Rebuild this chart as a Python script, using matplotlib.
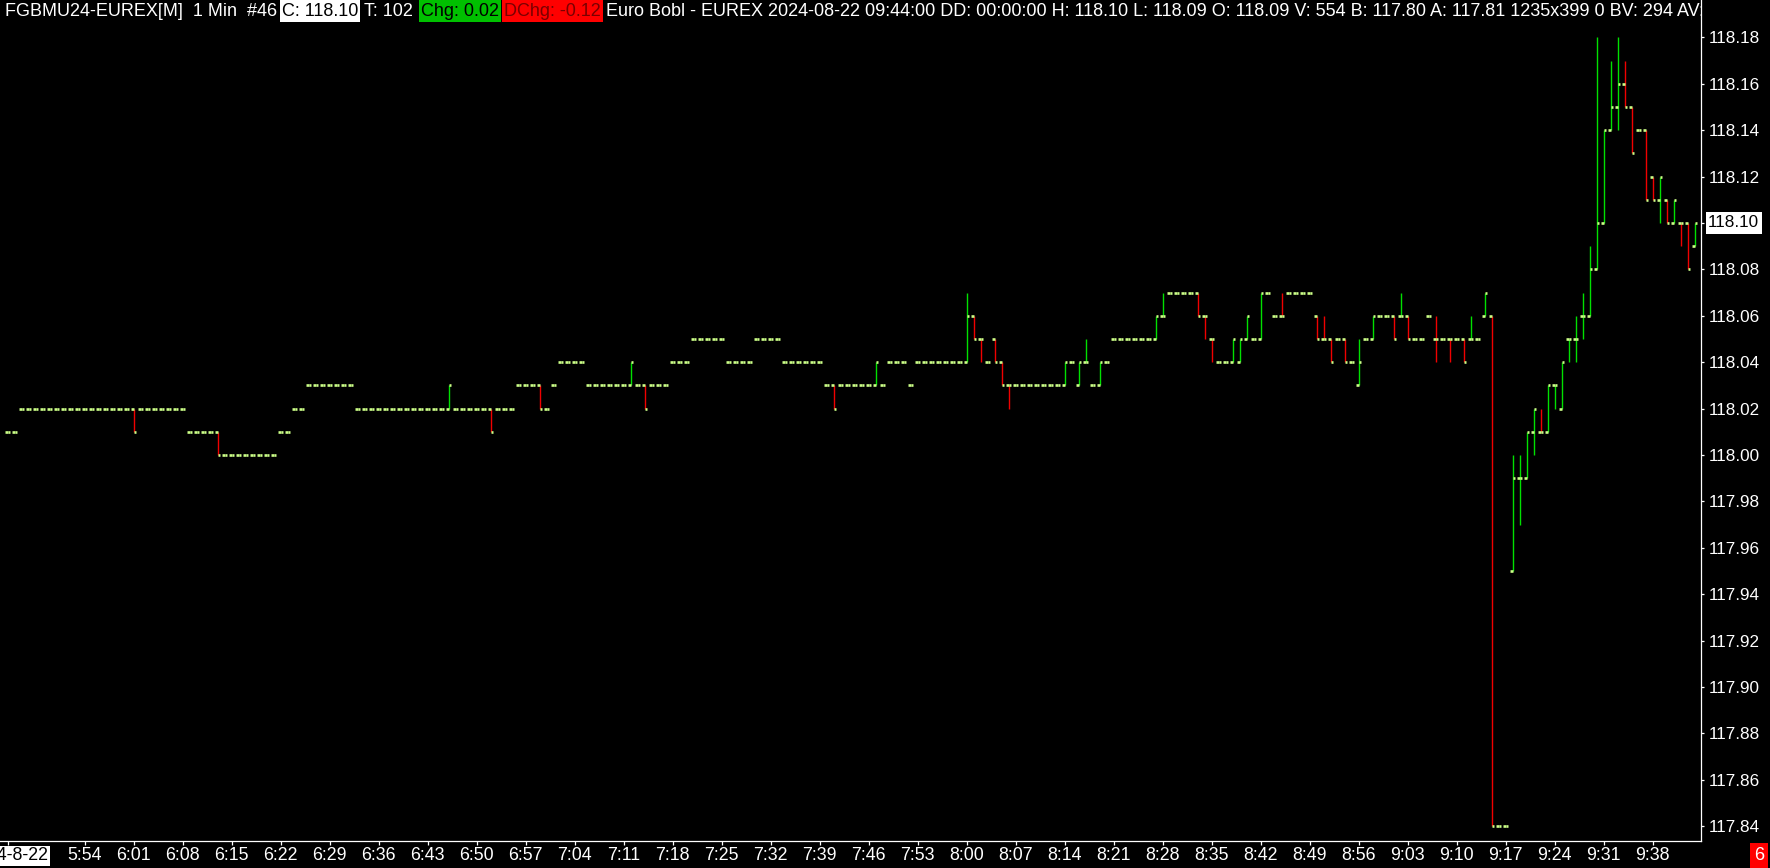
import numpy as np
import matplotlib
matplotlib.use('Agg')
import matplotlib.pyplot as plt
from matplotlib.patches import Rectangle
from matplotlib.ticker import MultipleLocator, FormatStrFormatter
from matplotlib.transforms import blended_transform_factory

plt.rcParams['font.family'] = ['Liberation Sans', 'DejaVu Sans']

W, H, DPI = 1770, 868, 100

# 1 minute bars, FGBMU24, starting 05:43
start_time = '5:43'

opens = [
    118.01, 118.01, 118.02, 118.02, 118.02, 118.02, 118.02, 118.02, 118.02, 118.02,
    118.02, 118.02, 118.02, 118.02, 118.02, 118.02, 118.02, 118.02, 118.02, 118.02,
    118.02, 118.02, 118.02, 118.02, 118.02, 118.02, 118.01, 118.01, 118.01, 118.01,
    118.01, 118.00, 118.00, 118.00, 118.00, 118.00, 118.00, 118.00, 118.00, 118.01,
    118.01, 118.02, 118.02, 118.03, 118.03, 118.03, 118.03, 118.03, 118.03, 118.03,
    118.02, 118.02, 118.02, 118.02, 118.02, 118.02, 118.02, 118.02, 118.02, 118.02,
    118.02, 118.02, 118.02, 118.02, 118.02, 118.02, 118.02, 118.02, 118.02, 118.02,
    118.02, 118.02, 118.02, 118.03, 118.03, 118.03, 118.03, 118.02, 118.03, 118.04,
    118.04, 118.04, 118.04, 118.03, 118.03, 118.03, 118.03, 118.03, 118.03, 118.03,
    118.03, 118.03, 118.03, 118.03, 118.03, 118.04, 118.04, 118.04, 118.05, 118.05,
    118.05, 118.05, 118.05, 118.04, 118.04, 118.04, 118.04, 118.05, 118.05, 118.05,
    118.05, 118.04, 118.04, 118.04, 118.04, 118.04, 118.04, 118.03, 118.03, 118.03,
    118.03, 118.03, 118.03, 118.03, 118.03, 118.03, 118.04, 118.04, 118.04, 118.03,
    118.04, 118.04, 118.04, 118.04, 118.04, 118.04, 118.04, 118.04, 118.06, 118.05,
    118.04, 118.05, 118.04, 118.03, 118.03, 118.03, 118.03, 118.03, 118.03, 118.03,
    118.03, 118.03, 118.04, 118.03, 118.04, 118.03, 118.03, 118.04, 118.05, 118.05,
    118.05, 118.05, 118.05, 118.05, 118.05, 118.06, 118.07, 118.07, 118.07, 118.07,
    118.07, 118.06, 118.05, 118.04, 118.04, 118.04, 118.04, 118.05, 118.05, 118.05,
    118.07, 118.06, 118.06, 118.07, 118.07, 118.07, 118.07, 118.06, 118.05, 118.05,
    118.05, 118.05, 118.04, 118.03, 118.05, 118.05, 118.06, 118.06, 118.06, 118.06,
    118.06, 118.05, 118.05, 118.06, 118.05, 118.05, 118.05, 118.05, 118.05, 118.05,
    118.05, 118.06, 118.06, 117.84, 117.84, 117.95, 117.99, 117.99, 118.01, 118.01,
    118.01, 118.03, 118.02, 118.05, 118.05, 118.06, 118.06, 118.08, 118.10, 118.14,
    118.15, 118.16, 118.15, 118.14, 118.14, 118.12, 118.11, 118.11, 118.10, 118.10,
    118.10, 118.09,
]
highs = [
    118.01, 118.01, 118.02, 118.02, 118.02, 118.02, 118.02, 118.02, 118.02, 118.02,
    118.02, 118.02, 118.02, 118.02, 118.02, 118.02, 118.02, 118.02, 118.02, 118.02,
    118.02, 118.02, 118.02, 118.02, 118.02, 118.02, 118.01, 118.01, 118.01, 118.01,
    118.01, 118.00, 118.00, 118.00, 118.00, 118.00, 118.00, 118.00, 118.00, 118.01,
    118.01, 118.02, 118.02, 118.03, 118.03, 118.03, 118.03, 118.03, 118.03, 118.03,
    118.02, 118.02, 118.02, 118.02, 118.02, 118.02, 118.02, 118.02, 118.02, 118.02,
    118.02, 118.02, 118.02, 118.03, 118.02, 118.02, 118.02, 118.02, 118.02, 118.02,
    118.02, 118.02, 118.02, 118.03, 118.03, 118.03, 118.03, 118.02, 118.03, 118.04,
    118.04, 118.04, 118.04, 118.03, 118.03, 118.03, 118.03, 118.03, 118.03, 118.04,
    118.03, 118.03, 118.03, 118.03, 118.03, 118.04, 118.04, 118.04, 118.05, 118.05,
    118.05, 118.05, 118.05, 118.04, 118.04, 118.04, 118.04, 118.05, 118.05, 118.05,
    118.05, 118.04, 118.04, 118.04, 118.04, 118.04, 118.04, 118.03, 118.03, 118.03,
    118.03, 118.03, 118.03, 118.03, 118.04, 118.03, 118.04, 118.04, 118.04, 118.03,
    118.04, 118.04, 118.04, 118.04, 118.04, 118.04, 118.04, 118.07, 118.06, 118.05,
    118.04, 118.05, 118.04, 118.03, 118.03, 118.03, 118.03, 118.03, 118.03, 118.03,
    118.03, 118.04, 118.04, 118.04, 118.05, 118.03, 118.04, 118.04, 118.05, 118.05,
    118.05, 118.05, 118.05, 118.05, 118.06, 118.07, 118.07, 118.07, 118.07, 118.07,
    118.07, 118.06, 118.05, 118.04, 118.04, 118.05, 118.05, 118.06, 118.05, 118.07,
    118.07, 118.06, 118.07, 118.07, 118.07, 118.07, 118.07, 118.06, 118.06, 118.05,
    118.05, 118.05, 118.04, 118.05, 118.05, 118.06, 118.06, 118.06, 118.06, 118.07,
    118.06, 118.05, 118.05, 118.06, 118.06, 118.05, 118.05, 118.05, 118.05, 118.06,
    118.05, 118.07, 118.06, 117.84, 117.84, 118.00, 118.00, 118.01, 118.02, 118.02,
    118.03, 118.03, 118.04, 118.05, 118.06, 118.07, 118.09, 118.18, 118.14, 118.17,
    118.18, 118.17, 118.15, 118.14, 118.14, 118.12, 118.12, 118.11, 118.11, 118.10,
    118.10, 118.10,
]
lows = [
    118.01, 118.01, 118.02, 118.02, 118.02, 118.02, 118.02, 118.02, 118.02, 118.02,
    118.02, 118.02, 118.02, 118.02, 118.02, 118.02, 118.02, 118.02, 118.01, 118.02,
    118.02, 118.02, 118.02, 118.02, 118.02, 118.02, 118.01, 118.01, 118.01, 118.01,
    118.00, 118.00, 118.00, 118.00, 118.00, 118.00, 118.00, 118.00, 118.00, 118.01,
    118.01, 118.02, 118.02, 118.03, 118.03, 118.03, 118.03, 118.03, 118.03, 118.03,
    118.02, 118.02, 118.02, 118.02, 118.02, 118.02, 118.02, 118.02, 118.02, 118.02,
    118.02, 118.02, 118.02, 118.02, 118.02, 118.02, 118.02, 118.02, 118.02, 118.01,
    118.02, 118.02, 118.02, 118.03, 118.03, 118.03, 118.02, 118.02, 118.03, 118.04,
    118.04, 118.04, 118.04, 118.03, 118.03, 118.03, 118.03, 118.03, 118.03, 118.03,
    118.03, 118.02, 118.03, 118.03, 118.03, 118.04, 118.04, 118.04, 118.05, 118.05,
    118.05, 118.05, 118.05, 118.04, 118.04, 118.04, 118.04, 118.05, 118.05, 118.05,
    118.05, 118.04, 118.04, 118.04, 118.04, 118.04, 118.04, 118.03, 118.02, 118.03,
    118.03, 118.03, 118.03, 118.03, 118.03, 118.03, 118.04, 118.04, 118.04, 118.03,
    118.04, 118.04, 118.04, 118.04, 118.04, 118.04, 118.04, 118.04, 118.05, 118.04,
    118.04, 118.04, 118.03, 118.02, 118.03, 118.03, 118.03, 118.03, 118.03, 118.03,
    118.03, 118.03, 118.04, 118.03, 118.04, 118.03, 118.03, 118.04, 118.05, 118.05,
    118.05, 118.05, 118.05, 118.05, 118.05, 118.06, 118.07, 118.07, 118.07, 118.07,
    118.06, 118.05, 118.04, 118.04, 118.04, 118.04, 118.04, 118.05, 118.05, 118.05,
    118.07, 118.06, 118.06, 118.07, 118.07, 118.07, 118.07, 118.05, 118.05, 118.04,
    118.05, 118.04, 118.04, 118.03, 118.05, 118.05, 118.06, 118.06, 118.05, 118.06,
    118.05, 118.05, 118.05, 118.06, 118.04, 118.05, 118.04, 118.05, 118.04, 118.05,
    118.05, 118.06, 117.84, 117.84, 117.84, 117.95, 117.97, 117.99, 118.00, 118.01,
    118.01, 118.02, 118.02, 118.04, 118.04, 118.05, 118.06, 118.08, 118.10, 118.14,
    118.14, 118.15, 118.13, 118.14, 118.11, 118.11, 118.10, 118.10, 118.10, 118.09,
    118.08, 118.09,
]
closes = [
    118.01, 118.01, 118.02, 118.02, 118.02, 118.02, 118.02, 118.02, 118.02, 118.02,
    118.02, 118.02, 118.02, 118.02, 118.02, 118.02, 118.02, 118.02, 118.01, 118.02,
    118.02, 118.02, 118.02, 118.02, 118.02, 118.02, 118.01, 118.01, 118.01, 118.01,
    118.00, 118.00, 118.00, 118.00, 118.00, 118.00, 118.00, 118.00, 118.00, 118.01,
    118.01, 118.02, 118.02, 118.03, 118.03, 118.03, 118.03, 118.03, 118.03, 118.03,
    118.02, 118.02, 118.02, 118.02, 118.02, 118.02, 118.02, 118.02, 118.02, 118.02,
    118.02, 118.02, 118.02, 118.03, 118.02, 118.02, 118.02, 118.02, 118.02, 118.01,
    118.02, 118.02, 118.02, 118.03, 118.03, 118.03, 118.02, 118.02, 118.03, 118.04,
    118.04, 118.04, 118.04, 118.03, 118.03, 118.03, 118.03, 118.03, 118.03, 118.04,
    118.03, 118.02, 118.03, 118.03, 118.03, 118.04, 118.04, 118.04, 118.05, 118.05,
    118.05, 118.05, 118.05, 118.04, 118.04, 118.04, 118.04, 118.05, 118.05, 118.05,
    118.05, 118.04, 118.04, 118.04, 118.04, 118.04, 118.04, 118.03, 118.02, 118.03,
    118.03, 118.03, 118.03, 118.03, 118.04, 118.03, 118.04, 118.04, 118.04, 118.03,
    118.04, 118.04, 118.04, 118.04, 118.04, 118.04, 118.04, 118.06, 118.05, 118.05,
    118.04, 118.04, 118.03, 118.03, 118.03, 118.03, 118.03, 118.03, 118.03, 118.03,
    118.03, 118.04, 118.04, 118.04, 118.04, 118.03, 118.04, 118.04, 118.05, 118.05,
    118.05, 118.05, 118.05, 118.05, 118.06, 118.06, 118.07, 118.07, 118.07, 118.07,
    118.06, 118.06, 118.05, 118.04, 118.04, 118.05, 118.05, 118.06, 118.05, 118.07,
    118.07, 118.06, 118.06, 118.07, 118.07, 118.07, 118.07, 118.05, 118.05, 118.04,
    118.05, 118.04, 118.04, 118.04, 118.05, 118.06, 118.06, 118.06, 118.05, 118.06,
    118.05, 118.05, 118.05, 118.06, 118.05, 118.05, 118.05, 118.05, 118.04, 118.05,
    118.05, 118.07, 117.84, 117.84, 117.84, 117.99, 117.99, 118.01, 118.02, 118.01,
    118.03, 118.03, 118.04, 118.05, 118.05, 118.06, 118.08, 118.10, 118.14, 118.15,
    118.16, 118.15, 118.13, 118.14, 118.11, 118.11, 118.12, 118.10, 118.11, 118.10,
    118.08, 118.10,
]

time_labels = ['5:54', '6:01', '6:08', '6:15', '6:22', '6:29', '6:36', '6:43', '6:50',
               '6:57', '7:04', '7:11', '7:18', '7:25', '7:32', '7:39', '7:46', '7:53',
               '8:00', '8:07', '8:14', '8:21', '8:28', '8:35', '8:42', '8:49', '8:56',
               '9:03', '9:10', '9:17', '9:24', '9:31', '9:38']
date_label = '2024-8-22'
last_price = 118.10

header = [
    ('FGBMU24-EUREX[M]  1 Min  #46', 'white', None, 3),
    ('C: 118.10', 'black', 'white', 280),
    ('T: 102', 'white', None, 362),
    ('Chg: 0.02', 'black', '#00C000', 419),
    ('DChg: -0.12', '#7a0000', '#ff0000', 502),
    ('Euro Bobl - EUREX 2024-08-22 09:44:00 DD: 00:00:00 H: 118.10 L: 118.09 '
     'O: 118.09 V: 554 B: 117.80 A: 117.81 1235x399 0 BV: 294 AV: 260', 'white', None, 604),
]

UP = '#00e000'
DOWN = '#f00000'
TICK = '#ccff88'


def minutes(t):
    h, m = t.split(':')
    return int(h) * 60 + int(m)


# bar colour: close vs open, ties resolved by prior close, then prior colour
o = np.round(opens, 2)
c = np.round(closes, 2)
colors = []
prev = UP
for i in range(len(o)):
    if c[i] > o[i]:
        col = UP
    elif c[i] < o[i]:
        col = DOWN
    else:
        pc = c[i - 1] if i > 0 else c[i]
        col = UP if c[i] > pc else DOWN if c[i] < pc else prev
    colors.append(col)
    prev = col

fig = plt.figure(figsize=(W / DPI, H / DPI), dpi=DPI, facecolor='black')
ax = fig.add_axes([0, 27 / H, 1701 / W, 1 - 27 / H])
ax.set_facecolor('black')

x = np.arange(len(opens))
ax.vlines(x, lows, highs, colors=colors, linewidth=1.0)
ax.hlines(opens, x - 0.38, x, colors=TICK, linewidth=1.9)
ax.hlines(closes, x, x + 0.38, colors=TICK, linewidth=1.9)

ax.set_xlim(-1.1, 241.9)
ax.set_ylim(117.8336, 118.1961)

for s in ['left', 'top']:
    ax.spines[s].set_visible(False)
for s in ['right', 'bottom']:
    ax.spines[s].set_color('white')
    ax.spines[s].set_linewidth(0.9)

ax.yaxis.tick_right()
ax.yaxis.set_major_locator(MultipleLocator(0.02))
ax.yaxis.set_major_formatter(FormatStrFormatter('%.2f'))
ax.tick_params(axis='y', colors='white', length=2.5, width=0.9, pad=2.8,
               labelsize=12.3)

t0 = minutes(start_time)
xt = [0] + [minutes(t) - t0 for t in time_labels]
ax.set_xticks(xt)
ax.set_xticklabels([date_label] + time_labels)
ax.tick_params(axis='x', colors='white', length=3, width=0.9, pad=1.5,
               labelsize=12.8)
lab0 = ax.get_xticklabels()[0]
lab0.set_color('black')
lab0.set_bbox(dict(facecolor='white', edgecolor='none', pad=1.0))

# last price marker on the price scale
tr = blended_transform_factory(ax.transAxes, ax.transData)
ax.add_patch(Rectangle((1 + 5 / 1701, last_price - 11 / 2320), 56 / 1701, 22 / 2320,
                       transform=tr, facecolor='white', edgecolor='none',
                       clip_on=False, zorder=5))
ax.text(1 + 7 / 1701, last_price, '%.2f' % last_price, transform=tr, color='black',
        fontsize=12.3, va='center', ha='left', clip_on=False, zorder=6)

# header line
fig.canvas.draw()
r = fig.canvas.get_renderer()
for txt, fg, bg, x0 in header:
    t = fig.text((x0 + 2) / W, 1 - 11 / H, txt, color=fg, fontsize=13.0,
                 va='center', ha='left', zorder=6)
    t.set_clip_box(ax.bbox)
    t.set_clip_on(True)
    if bg:
        bb = t.get_window_extent(r)
        fig.patches.append(Rectangle((x0 / W, 1 - 22 / H), (bb.x1 + 2 - x0) / W, 22 / H,
                                     transform=fig.transFigure, facecolor=bg,
                                     edgecolor='none', zorder=5))

# bar counter box, bottom right
fig.text(1759 / W, 12 / H, '6', color='white', fontsize=13, ha='center', va='center',
         bbox=dict(facecolor='#ff0000', edgecolor='none', pad=3))

fig.savefig('out.png', dpi=DPI, facecolor='black')
